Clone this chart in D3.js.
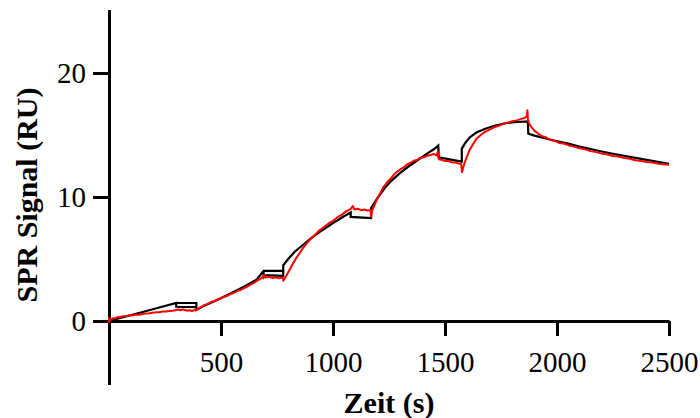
<!DOCTYPE html>
<html>
<head>
<meta charset="utf-8">
<script src="https://cdn.jsdelivr.net/npm/d3@7"></script>
<style>
    html, body { margin: 0; padding: 0; background: #fff; }
    svg { display: block; }
    .axis text { font-family: 'Liberation Serif', 'Times New Roman', serif; font-size: 29px; fill: #000; }
    .axis path, .axis line { stroke: #000; stroke-width: 3px; }
    .title { font-family: 'Liberation Serif', 'Times New Roman', serif; font-weight: bold; font-size: 30px; }
</style>
</head>
<body>
<div id="chart"></div>
<script>
// Axis ticks
const xTicks = [500, 1000, 1500, 2000, 2500]
const yTicks = [0, 10, 20]

// Fit (black). null marks a break in the line
const fitTime = [0, 100, 200, 300, 300, 390, 0,
    300, 390, 390, 420, 480, 540, 600, 660, 690, 778, 0,
    690, 690, 778, 778, 800, 830, 860, 900, 950, 1000, 1040, 1079, 1079, 1170, 1170,
    1200, 1230, 1260, 1300, 1340, 1380, 1420, 1450, 1470, 1472, 1575, 1575,
    1590, 1610, 1640, 1680, 1720, 1770, 1820, 1870, 1872,
    1900, 1950, 2000, 2050, 2100, 2150, 2200, 2250, 2300, 2350, 2400, 2450, 2500]
const fitSignal = [0, 0.48, 0.97, 1.45, 1.15, 1.12, null,
    1.45, 1.45, 0.9, 1.18, 1.68, 2.2, 2.75, 3.35, 4.05, 4.05, null,
    4.05, 3.7, 3.65, 4.5, 5.0, 5.6, 6.05, 6.65, 7.3, 7.9, 8.35, 8.75, 8.4, 8.3, 9.1,
    9.95, 10.7, 11.3, 11.95, 12.5, 13.0, 13.5, 13.85, 14.15, 13.2, 12.85, 13.9,
    14.35, 14.8, 15.2, 15.5, 15.75, 15.95, 16.05, 16.1, 15.1,
    14.95, 14.72, 14.5, 14.3, 14.07, 13.87, 13.67, 13.49, 13.32, 13.16, 13.0, 12.84, 12.68]

// Measured signal (red)
const measTime = [0, 0, 3, 10, 20, 30, 40, 50, 60, 75, 90, 105, 120, 135, 150, 165, 180, 195,
    210, 225, 240, 255, 270, 285, 300, 310, 320, 330, 340, 350, 360, 370, 380, 390,
    400, 410, 425, 440, 455, 470, 485, 500, 515, 530, 545, 560, 575, 590, 605, 620, 635,
    650, 665, 675, 685, 690, 692, 700, 715, 730, 745, 760, 772, 778, 778,
    790, 805, 820, 835, 850, 865, 880, 900, 920, 940, 960, 980, 1000, 1020, 1040, 1060, 1080,
    1088, 1095, 1110, 1125, 1140, 1155, 1168, 1170,
    1175, 1185, 1195, 1205, 1215, 1225, 1240, 1255, 1270, 1285, 1300, 1315, 1330, 1345, 1360,
    1375, 1390, 1405, 1420, 1435, 1450, 1462, 1468, 1472, 1485, 1500, 1515, 1530, 1545, 1560,
    1572, 1576, 1580, 1590, 1600, 1610, 1625, 1640, 1660, 1680, 1700, 1720, 1740, 1760, 1780,
    1800, 1820, 1840, 1855, 1865, 1868, 1870, 1875, 1885, 1900, 1915, 1930, 1950, 1970, 1990,
    2010, 2030, 2050, 2075, 2100, 2125, 2150, 2175, 2200, 2225, 2250, 2275, 2300, 2325, 2350,
    2375, 2400, 2425, 2450, 2475, 2500]
const measSignal = [-0.15, 0.25, 0.05, 0.15, 0.22, 0.25, 0.32, 0.3, 0.38, 0.4, 0.45, 0.44, 0.52, 0.51, 0.57, 0.6, 0.62, 0.66,
    0.7, 0.71, 0.76, 0.77, 0.8, 0.82, 0.88, 0.93, 0.87, 0.94, 0.88, 0.83, 0.86, 0.81, 0.86, 0.9,
    1.02, 1.12, 1.28, 1.38, 1.53, 1.6, 1.75, 1.82, 1.96, 2.05, 2.2, 2.28, 2.44, 2.52, 2.68, 2.8, 2.98,
    3.1, 3.3, 3.38, 3.55, 3.45, 3.72, 3.5, 3.56, 3.47, 3.53, 3.44, 3.5, 3.42, 3.25,
    3.6, 4.1, 4.6, 5.05, 5.45, 5.85, 6.2, 6.62, 6.95, 7.32, 7.58, 7.87, 8.08, 8.37, 8.58, 8.86, 9.05,
    9.28, 9.0, 9.06, 8.94, 8.99, 8.9, 8.95, 8.4,
    8.9, 9.35, 9.75, 10.1, 10.47, 10.8, 11.15, 11.43, 11.77, 12.03, 12.22, 12.38, 12.62, 12.74, 12.92,
    12.98, 13.17, 13.2, 13.32, 13.38, 13.47, 13.36, 13.65, 13.05, 13.0, 12.9, 12.9, 12.8, 12.79, 12.7,
    12.66, 12.0, 12.3, 12.9, 13.35, 13.8, 14.25, 14.7, 15.0, 15.27, 15.43, 15.63, 15.74, 15.9, 15.98,
    16.12, 16.18, 16.3, 16.37, 16.52, 17.0, 16.3, 15.95, 15.65, 15.33, 15.12, 14.93, 14.82, 14.6, 14.52,
    14.36, 14.31, 14.18, 14.06, 13.93, 13.84, 13.7, 13.62, 13.5, 13.43, 13.31, 13.26, 13.14, 13.08, 12.96,
    12.91, 12.83, 12.78, 12.69, 12.65, 12.6]

const width = 700
const height = 418
const margin = { top: 11, right: 31, bottom: 35, left: 109 }

const svg = d3.select('#chart')
    .append('svg')
    .attr('width', width)
    .attr('height', height)

const x = d3.scaleLinear()
    .domain([0, 2500])
    .range([margin.left, width - margin.right])

const y = d3.scaleLinear()
    .domain([-5, 25])
    .range([height - margin.bottom, margin.top])

// Y axis
const yAxis = svg.append('g')
    .attr('class', 'axis')
    .attr('transform', `translate(${x(0)},0)`)
    .call(d3.axisLeft(y)
        .tickValues(yTicks)
        .tickFormat(d3.format('d'))
        .tickSize(16)
        .tickSizeOuter(0)
        .tickPadding(7))
yAxis.select('.domain').attr('stroke-linecap', 'square')

// X axis, crossing at y = 0
const xAxis = svg.append('g')
    .attr('class', 'axis')
    .attr('transform', `translate(0,${y(0)})`)
    .call(d3.axisBottom(x)
        .tickValues(xTicks)
        .tickFormat(d3.format('d'))
        .tickSize(15)
        .tickSizeOuter(0))
xAxis.selectAll('text')
    .attr('y', 51)
    .attr('dy', 0)

// Titles
svg.append('text')
    .attr('class', 'title')
    .attr('text-anchor', 'middle')
    .attr('transform', 'translate(37,195) rotate(-90)')
    .text('SPR Signal (RU)')

svg.append('text')
    .attr('class', 'title')
    .attr('text-anchor', 'middle')
    .attr('x', (x(0) + x(2500)) / 2)
    .attr('y', 413)
    .text('Zeit (s)')

// Curves
const fitLine = d3.line()
    .defined((d, i) => fitSignal[i] !== null)
    .x((d, i) => x(fitTime[i]))
    .y((d, i) => y(fitSignal[i]))

const measLine = d3.line()
    .x((d, i) => x(measTime[i]))
    .y((d, i) => y(measSignal[i]))

svg.append('path')
    .attr('d', fitLine(fitTime))
    .attr('fill', 'none')
    .attr('stroke', '#000')
    .attr('stroke-width', 2.2)

svg.append('path')
    .attr('d', measLine(measTime))
    .attr('fill', 'none')
    .attr('stroke', '#ff0000')
    .attr('stroke-width', 2)
    .attr('stroke-linejoin', 'round')
</script>
</body>
</html>
